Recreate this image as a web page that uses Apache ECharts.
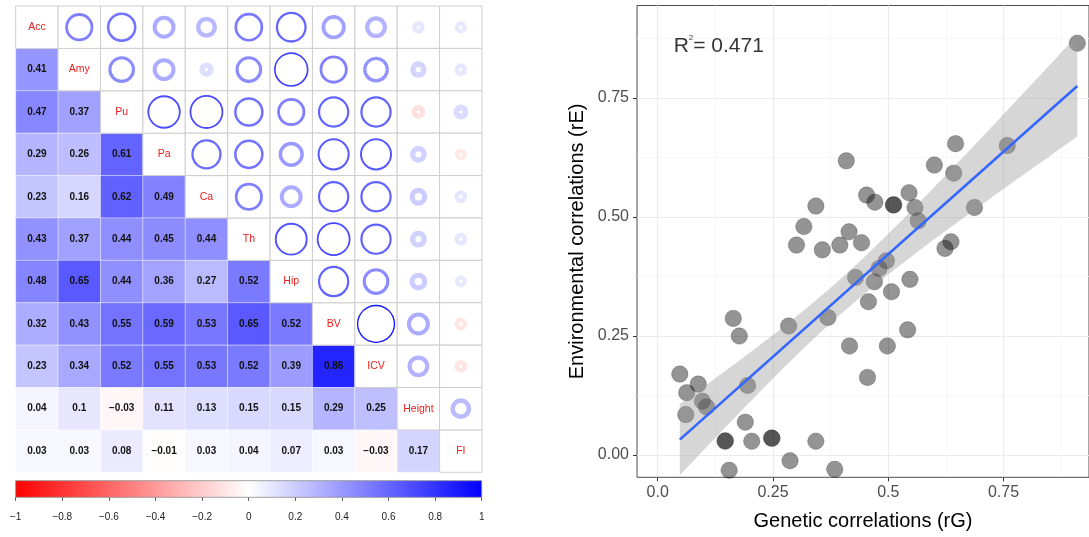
<!DOCTYPE html>
<html><head><meta charset="utf-8">
<script src="https://cdn.jsdelivr.net/npm/echarts@6/dist/echarts.min.js"></script>
<style>html,body{margin:0;padding:0;background:#fff}#c{width:1089px;height:537px}</style>
</head><body><div id="c"></div>
<script>
// ---------------- data ----------------
const vars = ['Acc','Amy','Pu','Pa','Ca','Th','Hip','BV','ICV','Height','FI'];
// lower triangle: environmental correlations (row i, columns 0..i-1)
const lowerVals = [
  [],
  [0.41],
  [0.47,0.37],
  [0.29,0.26,0.61],
  [0.23,0.16,0.62,0.49],
  [0.43,0.37,0.44,0.45,0.44],
  [0.48,0.65,0.44,0.36,0.27,0.52],
  [0.32,0.43,0.55,0.59,0.53,0.65,0.52],
  [0.23,0.34,0.52,0.55,0.53,0.52,0.39,0.86],
  [0.04,0.1,-0.03,0.11,0.13,0.15,0.15,0.29,0.25],
  [0.03,0.03,0.08,-0.01,0.03,0.04,0.07,0.03,-0.03,0.17]
];
// upper triangle circles (row i, columns i+1..10), estimated from circle size / colour
const upperVals = [
  [0.50,0.55,0.33,0.28,0.52,0.60,0.37,0.30,0.10,0.09],
  [0.45,0.33,0.13,0.45,0.75,0.50,0.42,0.17,0.10],
  [0.70,0.72,0.55,0.50,0.62,0.62,-0.12,0.14],
  [0.58,0.55,0.40,0.65,0.65,0.18,-0.09],
  [0.50,0.33,0.62,0.62,0.20,0.10],
  [0.68,0.72,0.62,0.18,0.10],
  [0.62,0.45,0.20,0.09],
  [0.92,0.33,-0.10],
  [0.30,-0.10],
  [0.27],
  []
];
// scatter: genetic (x) vs environmental (y) correlations
const rG = [0.910,0.646,0.758,0.600,0.642,0.409,0.453,0.471,0.511,0.512,0.545,0.558,0.565,0.687,0.636,0.623,0.343,0.317,0.415,0.442,0.301,0.357,0.395,0.429,0.496,0.480,0.547,0.470,0.507,0.457,0.369,0.284,0.164,0.177,0.416,0.542,0.498,0.455,0.048,0.088,0.063,0.195,0.097,0.106,0.061,0.190,0.146,0.147,0.204,0.247,0.248,0.343,0.287,0.155,0.384];
const rE = [0.865,0.654,0.650,0.609,0.592,0.618,0.546,0.531,0.525,0.526,0.551,0.520,0.492,0.520,0.448,0.434,0.523,0.480,0.469,0.446,0.441,0.431,0.441,0.373,0.408,0.392,0.369,0.364,0.343,0.322,0.289,0.271,0.287,0.250,0.229,0.263,0.229,0.163,0.170,0.149,0.131,0.146,0.113,0.101,0.085,0.069,0.029,0.030,0.029,0.036,0.035,0.029,-0.012,-0.032,-0.030];
const r2Text = '0.471';
const xTicks = [0,0.25,0.5,0.75];
const xTickLabels = ['0.0','0.25','0.5','0.75'];
const xMinor = [0.125,0.375,0.625,0.875];
const yTicks = [0,0.25,0.5,0.75];
const yTickLabels = ['0.00','0.25','0.50','0.75'];
const yMinor = [0.125,0.375,0.625,0.875];
const barTicks = [-1,-0.8,-0.6,-0.4,-0.2,0,0.2,0.4,0.6,0.8,1];
const barTickLabels = ['\u22121','\u22120.8','\u22120.6','\u22120.4','\u22120.2','0','0.2','0.4','0.6','0.8','1'];

// ---------------- helpers ----------------
const FONT = '"Liberation Sans", Arial, Helvetica, sans-serif';
function colorFor(v){
  if (v >= 0){ const c = Math.round(255*(1-v)); return 'rgb('+c+','+c+',255)'; }
  const c = Math.round(255*(1+v)); return 'rgb(255,'+c+','+c+')';
}
function fmt(v){ return String(v).replace('-', '\u2212'); }
function lookup(vals, labels, v){
  let best = 0; for (let i=1;i<vals.length;i++) if (Math.abs(vals[i]-v) < Math.abs(vals[best]-v)) best = i;
  return labels[best];
}

// matrix cells: [col, row, value, kind]  kind 0=lower 1=diag 2=upper
const cells = [];
lowerVals.forEach((row,i)=>row.forEach((v,j)=>cells.push([j,i,v,0])));
vars.forEach((n,i)=>cells.push([i,i,0,1]));
upperVals.forEach((row,i)=>row.forEach((v,k)=>cells.push([i+1+k,i,v,2])));

// regression fit + 95% CI
const n = rG.length;
const mx = rG.reduce((a,b)=>a+b,0)/n, my = rE.reduce((a,b)=>a+b,0)/n;
let sxx=0, sxy=0; for (let i=0;i<n;i++){ sxx += (rG[i]-mx)**2; sxy += (rG[i]-mx)*(rE[i]-my); }
const slope = sxy/sxx, icpt = my - slope*mx;
let sse=0; for (let i=0;i<n;i++){ sse += (rE[i]-(icpt+slope*rG[i]))**2; }
const sres = Math.sqrt(sse/(n-2));
const tq = 2.0057;
const xlo = Math.min(...rG), xhi = Math.max(...rG);
const band = [];
for (let k=0;k<=80;k++){
  const x = xlo + (xhi-xlo)*k/80;
  const yh = icpt + slope*x;
  const se = sres*Math.sqrt(1/n + (x-mx)**2/sxx);
  band.push([x, yh - tq*se, yh + tq*se]);
}
const fitLine = [[xlo, icpt+slope*xlo],[xhi, icpt+slope*xhi]];

const chart = echarts.init(document.getElementById('c'), null, {renderer:'canvas'});
const scMinX = -0.0448, scMaxX = 0.9353, scMinY = -0.0468, scMaxY = 0.9443;

const option = {
  animation: false,
  backgroundColor: '#ffffff',
  grid: [
    {left: 15.7, top: 6, width: 466.3, height: 466.3},
    {left: 637, top: 5.5, width: 453, height: 471.8, show: true, borderColor: '#4d4d4d', borderWidth: 1, backgroundColor: 'transparent'},
    {left: 15.7, top: 480.7, width: 466, height: 16.6}
  ],
  xAxis: [
    {type:'category', gridIndex:0, data: vars, show:false},
    {type:'value', gridIndex:1, min: scMinX, max: scMaxX,
      name: 'Genetic correlations (rG)', nameLocation:'middle', nameGap: 34,
      nameTextStyle: {fontSize: 20, color:'#000', fontFamily: FONT},
      axisLine:{show:false, onZero:false},
      axisTick:{show:true, length:4, customValues: xTicks, lineStyle:{color:'#333', width:1}},
      axisLabel:{show:true, customValues: xTicks, fontSize:16, color:'#4d4d4d', fontFamily: FONT, margin:7,
        formatter: v => lookup(xTicks, xTickLabels, v)},
      splitLine:{show:true, lineStyle:{color:'#ebebeb', width:1.2}}
    },
    {type:'value', gridIndex:1, min: scMinX, max: scMaxX,
      axisLine:{show:false, onZero:false}, axisTick:{show:false, customValues: xMinor}, axisLabel:{show:false},
      splitLine:{show:true, lineStyle:{color:'#f3f3f3', width:0.7}}
    },
    {type:'value', gridIndex:2, min:-1, max:1,
      axisLine:{show:false, onZero:false},
      axisTick:{show:true, length:3.5, customValues: barTicks, lineStyle:{color:'#555', width:1}},
      axisLabel:{show:true, customValues: barTicks, fontSize:10, color:'#222', fontFamily: FONT, margin:15,
        formatter: v => lookup(barTicks, barTickLabels, v)},
      splitLine:{show:false}
    }
  ],
  yAxis: [
    {type:'category', gridIndex:0, data: vars, inverse:true, show:false},
    {type:'value', gridIndex:1, min: scMinY, max: scMaxY,
      name: 'Environmental correlations (rE)', nameLocation:'middle', nameGap: 50,
      nameTextStyle: {fontSize: 20, color:'#000', fontFamily: FONT},
      axisLine:{show:false, onZero:false},
      axisTick:{show:true, length:4, customValues: yTicks, lineStyle:{color:'#333', width:1}},
      axisLabel:{show:true, customValues: yTicks, fontSize:16, color:'#4d4d4d', fontFamily: FONT, margin:8,
        formatter: v => lookup(yTicks, yTickLabels, v)},
      splitLine:{show:true, lineStyle:{color:'#ebebeb', width:1.2}}
    },
    {type:'value', gridIndex:1, min: scMinY, max: scMaxY,
      axisLine:{show:false, onZero:false}, axisTick:{show:false, customValues: yMinor}, axisLabel:{show:false},
      splitLine:{show:true, lineStyle:{color:'#f3f3f3', width:0.7}}
    },
    {type:'value', gridIndex:2, min:0, max:1, show:false}
  ],
  series: [
    // correlation matrix
    {
      type:'custom', xAxisIndex:0, yAxisIndex:0, data: cells,
      encode:{x:0, y:1},
      renderItem: function(params, api){
        const col = api.value(0), row = api.value(1), v = api.value(2), kind = api.value(3);
        const c = api.coord([col,row]); const sz = api.size([1,1]);
        const w = sz[0], h = sz[1];
        const children = [{
          type:'rect', shape:{x:c[0]-w/2, y:c[1]-h/2, width:w, height:h},
          style:{fill: kind===0 ? colorFor(v) : '#ffffff', stroke: kind===0 ? 'rgba(255,255,255,0.35)' : '#cdcdcd', lineWidth: 1}
        }];
        if (kind === 0){
          children.push({type:'text', style:{text: fmt(v), x:c[0], y:c[1], align:'center', verticalAlign:'middle',
            fill:'#111', font:'bold 10px ' + FONT}});
        } else if (kind === 1){
          children.push({type:'text', style:{text: vars[col], x:c[0], y:c[1], align:'center', verticalAlign:'middle',
            fill:'#ee1c1c', font:'10.5px ' + FONT}});
        } else {
          const a = Math.abs(v);
          const ro = (w/2)*0.94*Math.sqrt(a);
          const lw = 1.3 + 6*(1-a)*(1-a);
          const ri = Math.max(ro - lw, 1.8);
          children.push({type:'ring', shape:{cx:c[0], cy:c[1], r:ro, r0:ri}, style:{fill: colorFor(v)}});
        }
        return {type:'group', children: children};
      },
      z: 2
    },
    // colour bar
    {
      type:'custom', xAxisIndex:3, yAxisIndex:3, data:[[ -1, 1 ]],
      renderItem: function(params, api){
        const p0 = api.coord([api.value(0), 0]); const p1 = api.coord([api.value(1), 1]);
        return {type:'rect', shape:{x:p0[0], y:p1[1], width:p1[0]-p0[0], height:p0[1]-p1[1]},
          style:{fill: new echarts.graphic.LinearGradient(0,0,1,0,[
            {offset:0, color: colorFor(-1)}, {offset:0.5, color: colorFor(0)}, {offset:1, color: colorFor(1)}]),
            stroke:'#8a8a8a', lineWidth:0.8}};
      }
    },
    // scatter points
    {
      type:'scatter', xAxisIndex:1, yAxisIndex:1,
      data: rG.map((x,i)=>[x, rE[i]]),
      symbol:'circle', symbolSize:16.5,
      itemStyle:{color:'rgba(0,0,0,0.42)', borderColor:'rgba(0,0,0,0.2)', borderWidth:1, opacity:1},
      emphasis:{disabled:true},
      z: 3
    },
    // confidence band
    {
      type:'custom', xAxisIndex:1, yAxisIndex:1, data:[[xlo, 0]],
      renderItem: function(params, api){
        const pts = [];
        band.forEach(b => pts.push(api.coord([b[0], b[2]])));
        for (let k=band.length-1;k>=0;k--) pts.push(api.coord([band[k][0], band[k][1]]));
        return {type:'polygon', shape:{points: pts}, style:{fill:'rgba(153,153,153,0.4)'}};
      },
      z: 4
    },
    // fit line
    {
      type:'line', xAxisIndex:1, yAxisIndex:1, data: fitLine,
      showSymbol:false, symbol:'none',
      lineStyle:{color:'#3366ff', width:2.6},
      emphasis:{disabled:true},
      z: 5
    },
    // R^2 annotation
    {
      type:'scatter', xAxisIndex:1, yAxisIndex:1, data:[[0.1325, 0.859]],
      symbolSize: 0, silent: true,
      label:{show:true, position:'inside',
        formatter: '{a|R}{s|2}{a|= ' + r2Text + '}',
        rich:{
          a:{fontSize:21, color:'#000', fontFamily: FONT, lineHeight: 24},
          s:{fontSize:8, color:'#000', fontFamily: FONT, verticalAlign:'top', lineHeight: 24}
        }
      },
      z: 6
    }
  ]
};
chart.setOption(option);
</script>
</body></html>
